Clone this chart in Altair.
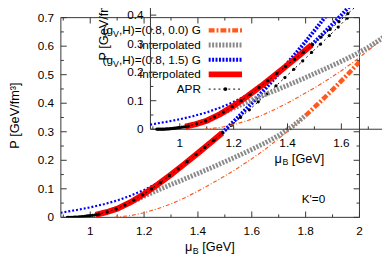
import altair as alt
import pandas as pd

# ---------------- curves (mu_B [GeV], P [GeV/fm^3]) ----------------
apr_mu = [0.915, 0.92, 0.925, 0.93, 0.935, 0.94, 0.945, 0.95, 0.955, 0.96,
          0.965, 0.97, 0.975, 0.98, 0.985, 0.99, 0.995, 1.0,
          1.008, 1.016, 1.024, 1.032,
          1.063, 1.096, 1.129, 1.162, 1.195, 1.228, 1.261, 1.294, 1.327, 1.36,
          1.393, 1.426, 1.459, 1.492, 1.525, 1.558, 1.591, 1.624, 1.657, 1.69,
          1.723, 1.756, 1.789, 1.822, 1.855, 1.888, 1.921, 1.954, 1.987]
apr_p = [0.0, 0.0, 0.0, 0.0001, 0.0002, 0.0004, 0.0006, 0.0009, 0.0012, 0.0016,
         0.002, 0.0025, 0.003, 0.0036, 0.0042, 0.0048, 0.0054, 0.006,
         0.007, 0.008, 0.0095, 0.011,
         0.019, 0.029, 0.043, 0.060, 0.079, 0.100, 0.122, 0.146, 0.170, 0.195,
         0.220, 0.245, 0.270, 0.296, 0.323, 0.350, 0.377, 0.405, 0.433, 0.461,
         0.490, 0.519, 0.548, 0.578, 0.607, 0.637, 0.667, 0.698, 0.728]

red_mu = [1.02, 1.06, 1.10, 1.15, 1.20, 1.25, 1.30, 1.35, 1.40, 1.45, 1.49]
red_p = [0.009, 0.018, 0.030, 0.053, 0.082, 0.115, 0.150, 0.187, 0.225, 0.264, 0.296]

gray_mu = [1.02, 1.06, 1.10, 1.15, 1.20, 1.25, 1.30, 1.35, 1.40, 1.45, 1.50,
           1.55, 1.60, 1.65, 1.70, 1.75, 1.80]
gray_p = [0.009, 0.018, 0.031, 0.052, 0.074, 0.095, 0.115, 0.134, 0.154, 0.174, 0.195,
          0.216, 0.238, 0.261, 0.287, 0.318, 0.357]

blue_thin_mu = [0.89, 0.95, 1.00, 1.05, 1.10, 1.15, 1.20, 1.25, 1.30, 1.35, 1.40, 1.45, 1.49]
blue_thin_p = [0.016, 0.026, 0.035, 0.046, 0.059, 0.076, 0.096, 0.120, 0.150, 0.186, 0.224, 0.262, 0.296]
blue_thick_mu = [1.49, 1.55, 1.60, 1.65, 1.70, 1.75, 1.80, 1.85, 1.90]
blue_thick_p = [0.296, 0.352, 0.400, 0.451, 0.504, 0.559, 0.616, 0.675, 0.736]

orange_thin_mu = [1.09, 1.15, 1.20, 1.25, 1.30, 1.35, 1.40, 1.45, 1.50, 1.55, 1.60,
                  1.65, 1.70, 1.75, 1.80]
orange_thin_p = [0.0, 0.006, 0.016, 0.030, 0.047, 0.068, 0.092, 0.118, 0.145, 0.174, 0.205,
                 0.239, 0.276, 0.315, 0.357]
orange_thick_mu = [1.80, 1.85, 1.90, 1.95, 2.00]
orange_thick_p = [0.357, 0.401, 0.447, 0.495, 0.545]

# ---------------- axes / texts ----------------
x_major = [1.0, 1.2, 1.4, 1.6, 1.8, 2.0]
x_major_labels = ["1", "1.2", "1.4", "1.6", "1.8", "2"]
x_minor = [0.9, 1.1, 1.3, 1.5, 1.7, 1.9]
y_major = [0.0, 0.1, 0.2, 0.3, 0.4, 0.5, 0.6, 0.7]
y_major_labels = ["0", "0.1", "0.2", "0.3", "0.4", "0.5", "0.6", "0.7"]
y_minor = [0.05, 0.15, 0.25, 0.35, 0.45, 0.55, 0.65]
key_texts = [("(g", "V", ",H)=(0.8, 0.0) G"), ("", "", "interpolated"),
             ("(g", "V", ",H)=(0.8, 1.5) G"), ("", "", "interpolated"), ("", "", "APR")]
kprime_text = "K'=0"

# ---------------- geometry & style ----------------
W, H = 305, 204
X0, X1 = 0.891, 2.0
Y0, Y1 = 0.0, 0.7
KX = W / (X1 - X0)
KY = H / (Y1 - Y0)
INSET_DX, INSET_DY = 91.5, -90.0   # the second (inset) copy of the panel is shifted

FONT = "Liberation Sans"
ORANGE = "#ff5a1e"
GRAY = "#8a8a8a"
BLUE = "#0000ff"
RED = "#ff0000"
FRAME = "#333333"

ADV = {" ": 278, "(": 333, ")": 333, ",": 278, ".": 278, "=": 584, "H": 722, "G": 778,
       "V": 667, "g": 556, "B": 667, "[": 278, "]": 278, "e": 556, "\u03bc": 576}


def tw(s, size):
    return sum(ADV.get(c, 556) for c in s) * size / 1000.0


ONE = pd.DataFrame({"k": [0]})

STYLES = {
    "orange_thin": dict(color=ORANGE, strokeWidth=1.2, strokeDash=[4, 2, 1, 2]),
    "orange_thick": dict(color=ORANGE, strokeWidth=4.5, strokeDash=[6, 2, 2, 2]),
    "gray": dict(color=GRAY, strokeWidth=5, strokeDash=[2, 1.5]),
    "blue_thin": dict(color=BLUE, strokeWidth=2.2, strokeDash=[2, 2]),
    "blue_thick": dict(color=BLUE, strokeWidth=4, strokeDash=[2, 1.5]),
    "red": dict(color=RED, strokeWidth=6),
    "apr": dict(color="black", strokeWidth=1, strokeDash=[2, 3]),
}


def build(dx, dy, clip):
    xs = alt.Scale(domain=[X0 - dx / KX, X1 - dx / KX], nice=False, zero=False)
    ys = alt.Scale(domain=[Y0 + dy / KY, Y1 + dy / KY], nice=False, zero=False)
    layers = []

    # frame and inward ticks (all four sides)
    segs = [(X0, Y0, X1, Y0), (X0, Y1, X1, Y1), (X0, Y0, X0, Y1), (X1, Y0, X1, Y1)]
    for vals, ln in ((x_major, 6), (x_minor, 3)):
        for v in vals:
            segs.append((v, Y0, v, Y0 + ln / KY))
            segs.append((v, Y1, v, Y1 - ln / KY))
    for vals, ln in ((y_major, 6), (y_minor, 3)):
        for v in vals:
            segs.append((X0, v, X0 + ln / KX, v))
            segs.append((X1, v, X1 - ln / KX, v))
    seg_df = pd.DataFrame(segs, columns=["x", "y", "x2", "y2"])
    layers.append(alt.Chart(seg_df).mark_rule(color=FRAME, strokeWidth=1).encode(
        x=alt.X("x:Q", scale=xs, axis=None), x2="x2:Q",
        y=alt.Y("y:Q", scale=ys, axis=None), y2="y2:Q"))

    # tick labels
    xl = pd.DataFrame({"mu": x_major, "P": [Y0] * len(x_major), "t": x_major_labels})
    layers.append(alt.Chart(xl).mark_text(font=FONT, fontSize=12, dy=14.5, baseline="middle",
                                          align="center", color="black").encode(
        x=alt.X("mu:Q", scale=xs, axis=None), y=alt.Y("P:Q", scale=ys, axis=None), text="t:N"))
    yl = pd.DataFrame({"mu": [X0] * len(y_major), "P": y_major, "t": y_major_labels})
    layers.append(alt.Chart(yl).mark_text(font=FONT, fontSize=12, dx=-7, baseline="middle",
                                          align="right", color="black").encode(
        x=alt.X("mu:Q", scale=xs, axis=None), y=alt.Y("P:Q", scale=ys, axis=None), text="t:N"))

    def txt(s, x, y, size, align, ddy=0, angle=None):
        kw = dict(text=s, font=FONT, fontSize=size, align=align, baseline="middle",
                  color="black", dy=ddy)
        if angle is not None:
            kw["angle"] = angle
        return alt.Chart(ONE).mark_text(**kw).encode(x=alt.value(x + dx), y=alt.value(y + dy))

    # axis titles
    total = tw("\u03bc", 13) + tw("B", 9) + tw(" [GeV]", 13)
    left = 152 - total / 2
    layers.append(txt("\u03bc", left, 234, 13, "left"))
    layers.append(txt("B", left + tw("\u03bc", 13) + 0.5, 234, 9, "left", 4))
    layers.append(txt("[GeV]", left + tw("\u03bc", 13) + tw("B", 9) + tw(" ", 13) + 0.5,
                      234, 13, "left"))
    layers.append(txt("P [GeV/fm\u00b3]", -47, 100, 13, "center", 0, 270))

    # curves
    def curve(mu, p, style):
        return alt.Chart(pd.DataFrame({"mu": mu, "P": p})).mark_line(
            clip=clip, **STYLES[style]).encode(
            x=alt.X("mu:Q", scale=xs, axis=None), y=alt.Y("P:Q", scale=ys, axis=None),
            order="mu:Q")

    layers.append(curve(orange_thin_mu, orange_thin_p, "orange_thin"))
    layers.append(curve(orange_thick_mu, orange_thick_p, "orange_thick"))
    layers.append(curve(gray_mu, gray_p, "gray"))
    layers.append(curve(blue_thin_mu, blue_thin_p, "blue_thin"))
    layers.append(curve(blue_thick_mu, blue_thick_p, "blue_thick"))
    layers.append(curve(red_mu, red_p, "red"))
    layers.append(curve(apr_mu, apr_p, "apr"))
    layers.append(alt.Chart(pd.DataFrame({"mu": apr_mu, "P": apr_p})).mark_circle(
        clip=clip, color="black", size=11, opacity=1).encode(
        x=alt.X("mu:Q", scale=xs, axis=None), y=alt.Y("P:Q", scale=ys, axis=None)))

    # key
    rows_y = [13, 28, 43, 58, 73]
    key_styles = ["orange_thick", "gray", "blue_thick", "red", "apr"]
    x_end, s0, s1 = 143, 151, 185
    for (head, sub, tail), ry, st in zip(key_texts, rows_y, key_styles):
        layers.append(txt(tail, x_end, ry, 12, "right"))
        if sub:
            tail_w = tw(tail, 12)
            layers.append(txt(sub, x_end - tail_w, ry, 9, "right", 4))
            layers.append(txt(head, x_end - tail_w - tw(sub, 9), ry, 12, "right"))
        layers.append(alt.Chart(ONE).mark_rule(**STYLES[st]).encode(
            x=alt.value(s0 + dx), x2=alt.value(s1 + dx), y=alt.value(ry + dy)))
        if st == "apr":
            layers.append(alt.Chart(ONE).mark_circle(color="black", size=16, opacity=1).encode(
                x=alt.value((s0 + s1) / 2 + dx), y=alt.value(ry + dy)))

    layers.append(txt(kprime_text, 258, 185, 12, "center"))
    return alt.layer(*layers)


main = build(0.0, 0.0, True)
inset = build(INSET_DX, INSET_DY, False)

chart = alt.layer(main, inset).resolve_scale(x="independent", y="independent").properties(
    width=W, height=H, autosize="none",
    padding={"left": 54, "top": 7, "right": 23, "bottom": 54},
    background="white",
).configure_view(stroke=None)

chart.save("out.html", embed_options={"renderer": "svg", "actions": False})
